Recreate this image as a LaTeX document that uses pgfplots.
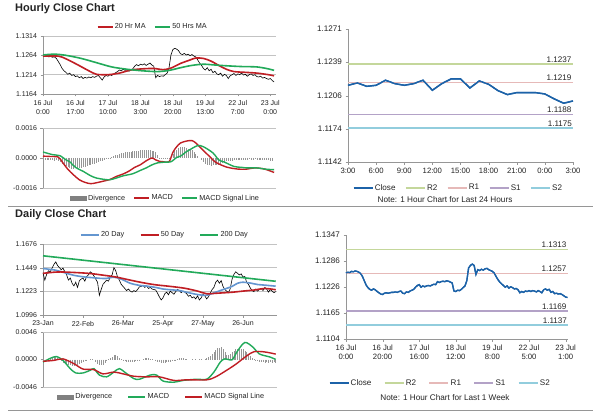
\documentclass[border=0pt]{standalone}
\usepackage{pgfplots}
\usepackage{pgfplotstable}
\pgfplotsset{compat=1.18}
\usepackage{fontspec}
\setmainfont{Liberation Sans}
\definecolor{maRed}{RGB}{192,30,36}
\definecolor{maGreen}{RGB}{34,170,90}
\definecolor{maBlue}{RGB}{100,150,208}
\definecolor{closeBlue}{RGB}{28,98,168}
\definecolor{divGray}{RGB}{150,150,150}
\definecolor{lvR2}{RGB}{196,215,155}
\definecolor{lvR1}{RGB}{230,185,184}
\definecolor{lvS1}{RGB}{179,162,199}
\definecolor{lvS2}{RGB}{146,205,221}
\definecolor{gridc}{RGB}{195,195,195}
\definecolor{axc}{RGB}{150,150,150}
\definecolor{txt}{RGB}{35,35,35}

\pgfplotstableread[row sep=\\]{y\\1.1262\\1.1261\\1.1262\\1.1260\\1.1261\\1.1259\\1.1260\\1.1256\\1.1248\\1.1240\\1.1230\\1.1224\\1.1220\\1.1215\\1.1218\\1.1212\\1.1214\\1.1209\\1.1211\\1.1206\\1.1209\\1.1204\\1.1207\\1.1205\\1.1208\\1.1206\\1.1209\\1.1207\\1.1210\\1.1212\\1.1206\\1.1200\\1.1208\\1.1212\\1.1210\\1.1214\\1.1212\\1.1216\\1.1219\\1.1222\\1.1226\\1.1224\\1.1228\\1.1225\\1.1227\\1.1223\\1.1226\\1.1229\\1.1236\\1.1240\\1.1237\\1.1241\\1.1239\\1.1242\\1.1238\\1.1241\\1.1244\\1.1239\\1.1236\\1.1206\\1.1212\\1.1209\\1.1211\\1.1210\\1.1214\\1.1218\\1.1232\\1.1265\\1.1279\\1.1282\\1.1280\\1.1276\\1.1268\\1.1266\\1.1269\\1.1265\\1.1267\\1.1263\\1.1266\\1.1262\\1.1260\\1.1252\\1.1244\\1.1238\\1.1230\\1.1226\\1.1232\\1.1224\\1.1228\\1.1219\\1.1223\\1.1216\\1.1214\\1.1218\\1.1210\\1.1215\\1.1212\\1.1204\\1.1211\\1.1214\\1.1217\\1.1212\\1.1216\\1.1214\\1.1218\\1.1213\\1.1215\\1.1210\\1.1214\\1.1216\\1.1212\\1.1214\\1.1209\\1.1208\\1.1210\\1.1205\\1.1207\\1.1204\\1.1202\\1.1204\\1.1199\\1.1195\\}\hclose

\pgfplotstableread[row sep=\\]{y\\-0.0001\\-0.00012\\-0.00011\\-0.00013\\-0.0001\\-0.00012\\-0.00014\\-0.00012\\-0.00015\\-0.0002\\-0.0003\\-0.00038\\-0.00045\\-0.0005\\-0.00055\\-0.00057\\-0.00058\\-0.00056\\-0.00057\\-0.00055\\-0.00052\\-0.0005\\-0.00047\\-0.00045\\-0.0004\\-0.00037\\-0.00033\\-0.0003\\-0.00026\\-0.00022\\-0.00018\\-0.00014\\-0.0001\\-0.00006\\-0.00003\\0.00002\\0.00005\\0.0001\\0.00014\\0.00018\\0.0002\\0.00024\\0.00026\\0.0003\\0.00032\\0.00033\\0.00034\\0.00036\\0.00037\\0.00038\\0.00039\\0.0004\\0.0004\\0.00041\\0.00042\\0.0004\\0.0004\\0.00038\\0.00035\\0.0003\\0.00015\\0.00002\\-0.00004\\-0.00006\\-0.00005\\-0.00004\\-0.00003\\0.0\\0.0002\\0.00035\\0.00045\\0.00052\\0.00058\\0.0006\\0.00058\\0.00055\\0.0005\\0.00045\\0.0004\\0.0003\\0.0002\\0.0001\\0.0\\-0.0001\\-0.0002\\-0.0003\\-0.00036\\-0.0004\\-0.00042\\-0.0004\\-0.0004\\-0.00038\\-0.00035\\-0.0003\\-0.00025\\-0.0002\\-0.00018\\-0.00016\\-0.00015\\-0.00014\\-0.00013\\-0.00012\\-0.00012\\-0.00011\\-0.0001\\-0.0001\\-0.00009\\-0.0001\\-0.00008\\-0.00009\\-0.0001\\-0.00008\\-0.00009\\-0.0001\\-0.00011\\-0.0001\\-0.00012\\-0.00012\\-0.00013\\-0.00014\\-0.00015\\}\hdiv

\pgfplotstableread[row sep=\\]{y\\1.1400\\1.1330\\1.1385\\1.1420\\1.1410\\1.1445\\1.1480\\1.1505\\1.1470\\1.1450\\1.1430\\1.1445\\1.1410\\1.1380\\1.1330\\1.1350\\1.1300\\1.1275\\1.1310\\1.1260\\1.1325\\1.1340\\1.1350\\1.1320\\1.1365\\1.1380\\1.1410\\1.1395\\1.1370\\1.1340\\1.1310\\1.1185\\1.1240\\1.1290\\1.1310\\1.1330\\1.1320\\1.1360\\1.1380\\1.1450\\1.1420\\1.1360\\1.1330\\1.1290\\1.1270\\1.1250\\1.1230\\1.1245\\1.1225\\1.1215\\1.1230\\1.1220\\1.1240\\1.1265\\1.1270\\1.1280\\1.1260\\1.1275\\1.1250\\1.1260\\1.1245\\1.1240\\1.1235\\1.1205\\1.1170\\1.1140\\1.1160\\1.1200\\1.1215\\1.1190\\1.1225\\1.1210\\1.1195\\1.1220\\1.1240\\1.1230\\1.1210\\1.1225\\1.1215\\1.1200\\1.1175\\1.1185\\1.1160\\1.1170\\1.1150\\1.1180\\1.1140\\1.1160\\1.1195\\1.1180\\1.1150\\1.1170\\1.1205\\1.1240\\1.1260\\1.1310\\1.1330\\1.1300\\1.1325\\1.1270\\1.1240\\1.1225\\1.1210\\1.1250\\1.1340\\1.1385\\1.1410\\1.1395\\1.1380\\1.1390\\1.1360\\1.1365\\1.1310\\1.1290\\1.1255\\1.1230\\1.1220\\1.1245\\1.1225\\1.1240\\1.1250\\1.1230\\1.1260\\1.1245\\1.1215\\1.1240\\1.1225\\1.1210\\1.1220\\}\dclose

\pgfplotstableread[row sep=\\]{y\\-0.0004\\-0.0003\\-0.0002\\-0.0001\\0.0001\\0.0003\\0.0004\\0.0004\\0.0003\\0.0001\\-0.0003\\-0.0006\\-0.0008\\-0.0009\\-0.001\\-0.001\\-0.0011\\-0.0011\\-0.001\\-0.0009\\-0.0008\\-0.0006\\-0.0004\\-0.0002\\-0.0001\\0.0\\0.0001\\0.0001\\0.0\\-0.0004\\-0.0008\\-0.001\\-0.001\\-0.0009\\-0.0006\\-0.0003\\0.0001\\0.0003\\0.0005\\0.0007\\0.0008\\0.0006\\0.0003\\0.0001\\-0.0002\\-0.0003\\-0.0004\\-0.0005\\-0.0005\\-0.0004\\-0.0004\\-0.0003\\-0.0002\\-0.0001\\0.0\\0.0001\\0.0002\\0.0002\\0.0002\\0.0001\\0.0001\\0.0\\-0.0002\\-0.0004\\-0.0005\\-0.0006\\-0.0006\\-0.0006\\-0.0005\\-0.0005\\-0.0004\\-0.0003\\-0.0002\\-0.0001\\0.0001\\0.0002\\0.0002\\0.0002\\0.0001\\0.0001\\0.0\\0.0\\0.0001\\0.0\\0.0001\\0.0\\0.0001\\0.0001\\0.0\\0.0001\\0.0002\\0.0004\\0.0006\\0.0009\\0.0013\\0.0016\\0.0019\\0.002\\0.0021\\0.0018\\0.0012\\0.0008\\0.0007\\0.0009\\0.0012\\0.0015\\0.0017\\0.0018\\0.0019\\0.0018\\0.0017\\0.0015\\0.0012\\0.0009\\0.0006\\0.0003\\0.0001\\-0.0001\\-0.0003\\-0.0004\\-0.0005\\-0.0005\\-0.0006\\-0.0005\\-0.0006\\-0.0005\\-0.0006\\-0.0005\\-0.0006\\}\ddiv

\pgfplotstableread[row sep=\\]{y\\1.1258\\1.1260\\1.1259\\1.1262\\1.1261\\1.1263\\1.1262\\1.1260\\1.1257\\1.1250\\1.1240\\1.1230\\1.1224\\1.1220\\1.1218\\1.1221\\1.1219\\1.1215\\1.1212\\1.1209\\1.1208\\1.1211\\1.1212\\1.1211\\1.1212\\1.1213\\1.1213\\1.1214\\1.1213\\1.1215\\1.1216\\1.1211\\1.1210\\1.1214\\1.1213\\1.1216\\1.1218\\1.1220\\1.1225\\1.1229\\1.1231\\1.1225\\1.1228\\1.1226\\1.1228\\1.1229\\1.1228\\1.1230\\1.1232\\1.1231\\1.1238\\1.1236\\1.1238\\1.1239\\1.1238\\1.1240\\1.1239\\1.1237\\1.1235\\1.1216\\1.1215\\1.1218\\1.1217\\1.1220\\1.1224\\1.1228\\1.1240\\1.1270\\1.1276\\1.1279\\1.1276\\1.1255\\1.1266\\1.1264\\1.1267\\1.1265\\1.1268\\1.1269\\1.1266\\1.1264\\1.1262\\1.1258\\1.1250\\1.1243\\1.1237\\1.1233\\1.1229\\1.1225\\1.1228\\1.1223\\1.1226\\1.1224\\1.1221\\1.1222\\1.1219\\1.1212\\1.1215\\1.1213\\1.1216\\1.1215\\1.1217\\1.1215\\1.1217\\1.1216\\1.1214\\1.1217\\1.1215\\1.1212\\1.1219\\1.1221\\1.1218\\1.1220\\1.1213\\1.1215\\1.1210\\1.1211\\1.1209\\1.1210\\1.1208\\1.1205\\1.1202\\1.1201\\}\wclose

\pgfplotsset{
  basep/.style={scale only axis, axis lines=left, axis line style={axc,-},
    major tick style={axc}, tick align=outside, major tick length=2.5pt,
    tick label style={font=\fontsize{7}{9}\selectfont, text=txt},
    yticklabel style={/pgf/number format/fixed, /pgf/number format/fixed zerofill, /pgf/number format/precision=4, /pgf/number format/assume math mode=true},
    scaled y ticks=false, clip=false,
    legend style={draw=none, fill=none, font=\fontsize{7.3}{8}\selectfont, text=txt,
      legend columns=-1, inner xsep=0pt, nodes={inner xsep=1.5pt},
      /tikz/every even column/.append style={column sep=7pt}},
    legend image code/.code={\draw[##1] (0pt,0pt) -- (15pt,0pt);}},
  gridp/.style={basep, ymajorgrids, grid style={gridc, line width=0.5pt}},
  rightp/.style={basep,
    xticklabel style={font=\fontsize{7.7}{9.2}\selectfont},
    yticklabel style={font=\fontsize{8.1}{9}\selectfont},
    legend style={font=\fontsize{8.1}{9}\selectfont},
    legend image code/.code={\draw[##1] (0pt,0pt) -- (19pt,0pt);}},
  divbar/.style={ycomb, divGray, line width=0.6pt,
    legend image code/.code={\fill[divGray!85!black] (0pt,-2pt) rectangle (16pt,2pt);}},
  lic18/.style={legend image code/.code={\draw[##1] (0pt,0pt) -- (18pt,0pt);}},
  lic17/.style={legend image code/.code={\draw[##1] (0pt,0pt) -- (17pt,0pt);}},
}
\tikzset{lvl/.style={anchor=south east, inner sep=1.5pt, font=\fontsize{8.1}{9}\selectfont, text=txt}}

\begin{document}
\begin{tikzpicture}[x=1pt,y=1pt]
\useasboundingbox (0,0) rectangle (600,413);
\fill[white] (0,0) rectangle (600,413);
\node[anchor=west, inner sep=0pt, font=\bfseries\fontsize{11}{12}\selectfont, text=txt] at (15,404) {Hourly Close Chart};
\node[anchor=west, inner sep=0pt, font=\bfseries\fontsize{11}{12}\selectfont, text=txt] at (15,198) {Daily Close Chart};
\draw[axc, line width=0.6pt] (8,207) -- (593,207);
\draw[axc, line width=0.6pt] (8,3) -- (593,3);

% ---------- Hourly price ----------
\begin{axis}[gridp, at={(43pt,319pt)}, anchor=south west, width=233pt, height=58pt,
  xmin=0, xmax=122, ymin=1.1164, ymax=1.1314,
  ytick={1.1164,1.1214,1.1264,1.1314},
  xtick={0,17,34,51,68,85,102,119},
  xticklabels={{16 Jul\\0:00},{16 Jul\\17:00},{17 Jul\\10:00},{18 Jul\\3:00},{18 Jul\\20:00},{19 Jul\\13:00},{22 Jul\\7:00},{23 Jul\\0:00}},
  xticklabel style={align=center},
  legend style={at={(0.47,1.155)}, anchor=center}]
\addplot[black, line width=0.6pt, forget plot] table[x expr=\coordindex, y index=0] {\hclose};
\addplot[maRed, line width=1.6pt, smooth] coordinates {(0,1.1262)(8,1.1262)(12,1.1255)(18,1.1240)(24,1.1224)(28,1.1215)(34,1.1214)(40,1.1218)(46,1.1226)(52,1.1229)(58,1.1230)(63,1.1227)(67,1.1231)(72,1.1243)(77,1.1252)(80,1.1257)(84,1.1256)(88,1.1249)(92,1.1238)(96,1.1228)(100,1.1222)(106,1.1220)(112,1.1218)(118,1.1214)(121,1.1211)};
\addlegendentry{20 Hr MA}
\addplot[maGreen, line width=1.6pt, smooth] coordinates {(0,1.1265)(6,1.1267)(12,1.1264)(20,1.1256)(28,1.1245)(36,1.1234)(44,1.1228)(52,1.1224)(60,1.1222)(66,1.1225)(72,1.1232)(78,1.1238)(84,1.1241)(90,1.1239)(96,1.1237)(104,1.1235)(112,1.1234)(118,1.1229)(121,1.1225)};
\addlegendentry{50 Hrs MA}
\end{axis}

% ---------- Hourly MACD ----------
\begin{axis}[basep, at={(43pt,225pt)}, anchor=south west, width=233pt, height=60pt,
  xmin=0, xmax=122, ymin=-0.0016, ymax=0.0016,
  ytick={0}, extra y ticks={-0.0016,0.0016}, extra y tick style={ymajorgrids, grid style={gridc}},
  xtick=\empty,
  legend style={at={(0.525,-0.17)}, anchor=center}]
\addplot[divbar] table[x expr=\coordindex, y index=0] {\hdiv};
\addlegendentry{Divergence}
\addplot[maRed, line width=1.4pt, smooth] coordinates {(0,0.0001)(4,0.00008)(8,0.00005)(10,-0.0002)(13,-0.0006)(16,-0.0009)(19,-0.00116)(22,-0.0013)(25,-0.00137)(28,-0.00132)(31,-0.00125)(35,-0.00115)(38,-0.00100)(42,-0.00085)(45,-0.0007)(48,-0.0005)(51,-0.00036)(54,-0.00015)(57,0.0)(59,-0.0001)(61,-0.00018)(63,-0.0002)(66,-0.0002)(68,0.0003)(70,0.0006)(72,0.0008)(75,0.0009)(78,0.00093)(80,0.0008)(82,0.0006)(86,0.0002)(88,0.0)(90,-0.0002)(93,-0.00036)(96,-0.00048)(98,-0.00053)(102,-0.00059)(106,-0.0006)(111,-0.00053)(116,-0.00059)(121,-0.00077)};
\addlegendentry{MACD}
\addplot[maGreen, line width=1.4pt, smooth] coordinates {(0,0.00032)(5,0.00018)(9,0.00012)(12,-0.0001)(14,-0.0002)(17,-0.0005)(21,-0.00071)(25,-0.00095)(28,-0.00107)(32,-0.00114)(35,-0.00116)(38,-0.00108)(42,-0.00095)(47,-0.00084)(51,-0.00066)(54,-0.00053)(57,-0.00037)(60,-0.00026)(64,-0.00022)(67,-0.0002)(70,0.00003)(72,0.0001)(75,0.00033)(77,0.00045)(81,0.00066)(84,0.0006)(89,0.00027)(92,-0.0001)(95,-0.00022)(100,-0.00045)(104,-0.0005)(107,-0.00053)(112,-0.00053)(117,-0.0006)(121,-0.00062)};
\addlegendentry{MACD Signal Line}
\end{axis}

% ---------- Right top: last 24 hours ----------
\begin{axis}[rightp, at={(348pt,251pt)}, anchor=south west, width=225pt, height=133pt,
  xmin=0, xmax=24, ymin=1.1142, ymax=1.1271,
  ytick={1.1142,1.1174,1.1206,1.1239,1.1271},
  xtick={0,3,...,24}, xticklabels={3:00,6:00,9:00,12:00,15:00,18:00,21:00,0:00,3:00},
  legend style={at={(0.49,-0.195)}, anchor=center,
    /tikz/every even column/.append style={column sep=8pt}}]
\addplot[closeBlue, line width=1.4pt] coordinates {(0,1.12164)(1,1.12187)(2,1.12154)(3,1.12164)(4,1.12213)(5,1.1218)(6,1.12164)(7,1.1218)(8,1.12213)(9,1.12116)(10,1.1218)(11,1.12226)(12,1.12226)(13,1.12138)(14,1.12206)(15,1.12174)(16,1.12112)(17,1.12074)(18,1.12093)(19,1.12093)(20,1.12093)(21,1.1208)(22,1.12032)(23,1.1199)(24,1.12012)};
\addlegendentry{Close}
\addplot[lvR2, line width=1.5pt] coordinates {(0,1.1237)(24,1.1237)};
\addlegendentry{R2}
\addplot[lvR1, line width=1.5pt] coordinates {(0,1.1219)(24,1.1219)};
\addlegendentry{R1}
\addplot[lvS1, line width=1.5pt] coordinates {(0,1.1188)(24,1.1188)};
\addlegendentry{S1}
\addplot[lvS2, line width=1.5pt] coordinates {(0,1.1175)(24,1.1175)};
\addlegendentry{S2}
\addplot[closeBlue, line width=1.4pt, forget plot] coordinates {(0,1.12164)(1,1.12187)(2,1.12154)(3,1.12164)(4,1.12213)(5,1.1218)(6,1.12164)(7,1.1218)(8,1.12213)(9,1.12116)(10,1.1218)(11,1.12226)(12,1.12226)(13,1.12138)(14,1.12206)(15,1.12174)(16,1.12112)(17,1.12074)(18,1.12093)(19,1.12093)(20,1.12093)(21,1.1208)(22,1.12032)(23,1.1199)(24,1.12012)};
\node[lvl] at (axis cs:24,1.1237) {1.1237};
\node[lvl] at (axis cs:24,1.1219) {1.1219};
\node[lvl] at (axis cs:24,1.1188) {1.1188};
\node[lvl, inner sep=0.8pt] at (axis cs:24,1.1175) {1.1175};
\end{axis}
\node[font=\fontsize{8.2}{9}\selectfont, text=txt] at (445,213) {Note: 1 Hour Chart for Last 24 Hours};

% ---------- Daily price ----------
\begin{axis}[gridp, lic18, at={(43pt,98pt)}, anchor=south west, width=234pt, height=71pt,
  xmin=0, xmax=128.7, ymin=1.0996, ymax=1.1676,
  ytick={1.0996,1.1223,1.1449,1.1676},
  xtick={0,22,44,66,88,110},
  xticklabels={23-Jan,22-Feb,26-Mar,25-Apr,27-May,26-Jun},
  legend style={at={(0.52,1.127)}, anchor=center,
    /tikz/every even column/.append style={column sep=14pt}}]
\addplot[black, line width=0.6pt, forget plot] table[x expr=\coordindex, y index=0] {\dclose};
\addplot[maBlue, line width=1.6pt, smooth] coordinates {(0,1.1441)(7,1.1425)(12,1.1400)(17,1.1376)(23,1.1360)(29,1.1351)(34,1.1345)(39,1.1358)(43,1.1340)(48,1.1300)(53,1.1280)(57,1.1273)(62,1.1260)(66,1.1245)(70,1.1238)(75,1.1230)(80,1.1210)(85,1.1192)(90,1.1185)(95,1.1215)(100,1.1245)(104,1.1270)(107,1.1300)(110,1.1310)(114,1.1302)(118,1.1288)(122,1.1282)(128,1.1272)};
\addlegendentry{20 Day}
\addplot[maRed, line width=1.6pt, smooth] coordinates {(0,1.1395)(8,1.1408)(15,1.1405)(25,1.1395)(32,1.1380)(40,1.1360)(48,1.1330)(55,1.1305)(62,1.1285)(70,1.1270)(78,1.1252)(85,1.1225)(90,1.1200)(96,1.1205)(104,1.1214)(110,1.1225)(116,1.1235)(122,1.1250)(128,1.1238)};
\addlegendentry{50 Day}
\addplot[maGreen, line width=1.6pt] coordinates {(0,1.1563)(32,1.1502)(64,1.1441)(96,1.1380)(128,1.1319)};
\addlegendentry{200 Day}
\end{axis}

% ---------- Daily MACD ----------
\begin{axis}[basep, lic17, at={(43pt,26pt)}, anchor=south west, width=234pt, height=55pt,
  xmin=0, xmax=128.7, ymin=-0.0046, ymax=0.0046,
  ytick={0}, extra y ticks={-0.0046,0.0046}, extra y tick style={ymajorgrids, grid style={gridc}},
  xtick=\empty,
  legend style={at={(0.506,-0.182)}, anchor=center,
    /tikz/every even column/.append style={column sep=14pt}}]
\addplot[divbar] table[x expr=\coordindex, y index=0] {\ddiv};
\addlegendentry{Divergence}
\addplot[maGreen, line width=1.4pt, smooth] coordinates {(0,-0.00044)(4,0.0002)(7.5,0.0005)(11,-0.00016)(15,-0.00153)(18,-0.00225)(22,-0.00225)(26,-0.0018)(28,-0.00153)(31,-0.0026)(35,-0.0029)(39,-0.0021)(42,-0.00153)(46,-0.00236)(50,-0.0032)(53,-0.0033)(59,-0.0026)(62.5,-0.0026)(66,-0.0036)(72,-0.0038)(77,-0.0035)(84.5,-0.0033)(90,-0.0033)(94,-0.0021)(97.5,-0.00044)(100,0.0001)(104,-0.00005)(106.5,0.0012)(111,0.00285)(115.7,0.002)(119,0.00093)(125,0.0004)(128,0.0)};
\addlegendentry{MACD}
\addplot[maRed, line width=1.4pt, smooth] coordinates {(0,-0.0003)(6,-0.00015)(11,0.0001)(17,-0.0007)(22,-0.0016)(28,-0.0017)(33,-0.0024)(39,-0.0021)(44,-0.0024)(50,-0.0028)(57,-0.0029)(64,-0.0029)(72,-0.0035)(79,-0.0034)(90,-0.0034)(95,-0.0029)(101,-0.0018)(106,-0.0008)(112,0.0006)(116,0.0013)(121,0.0013)(125,0.0011)(128,0.0009)};
\addlegendentry{MACD Signal Line}
\end{axis}

% ---------- Right bottom: last week ----------
\begin{axis}[rightp, at={(346pt,74pt)}, anchor=south west, width=222pt, height=104pt,
  xmin=0, xmax=121.3, ymin=1.1104, ymax=1.1347,
  ytick={1.1104,1.1165,1.1226,1.1286,1.1347},
  xtick={0,20,40,60,80,100,120},
  xticklabels={{16 Jul\\0:00},{16 Jul\\20:00},{17 Jul\\16:00},{18 Jul\\12:00},{19 Jul\\8:00},{22 Jul\\5:00},{23 Jul\\1:00}},
  xticklabel style={align=center},
  legend style={at={(0.424,-0.423)}, anchor=center,
    /tikz/every even column/.append style={column sep=11pt}}]
\addplot[closeBlue, line width=1.3pt] table[x expr=\coordindex, y index=0] {\wclose};
\addlegendentry{Close}
\addplot[lvR2, line width=1.5pt] coordinates {(0,1.1313)(121.3,1.1313)};
\addlegendentry{R2}
\addplot[lvR1, line width=1.5pt] coordinates {(0,1.1257)(121.3,1.1257)};
\addlegendentry{R1}
\addplot[lvS1, line width=1.5pt] coordinates {(0,1.1169)(121.3,1.1169)};
\addlegendentry{S1}
\addplot[lvS2, line width=1.5pt] coordinates {(0,1.1137)(121.3,1.1137)};
\addlegendentry{S2}
\addplot[closeBlue, line width=1.3pt, forget plot] table[x expr=\coordindex, y index=0] {\wclose};
\node[lvl] at (axis cs:121.3,1.1313) {1.1313};
\node[lvl] at (axis cs:121.3,1.1257) {1.1257};
\node[lvl] at (axis cs:121.3,1.1169) {1.1169};
\node[lvl, inner sep=0.8pt] at (axis cs:121.3,1.1137) {1.1137};
\end{axis}
\node[font=\fontsize{8.2}{9}\selectfont, text=txt] at (445,15) {Note: 1 Hour Chart for Last 1 Week};
\end{tikzpicture}
\end{document}
